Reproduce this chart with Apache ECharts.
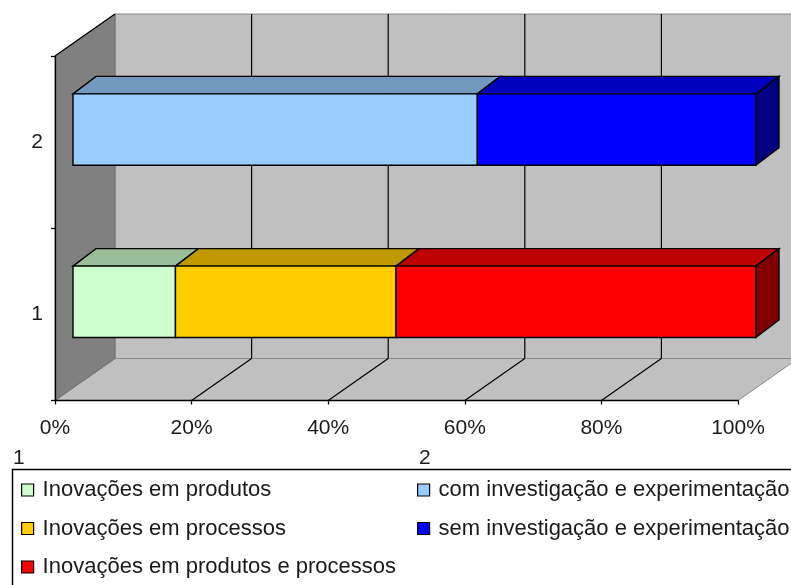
<!DOCTYPE html>
<html><head><meta charset="utf-8">
<script src="https://cdn.jsdelivr.net/npm/echarts@6/dist/echarts.min.js"></script>
<style>html,body{margin:0;padding:0;background:#fff}#c{width:791px;height:585px}</style>
</head><body><div id="c"></div>
<script>
// ---- data ----
const categories = ['1', '2'];
const xTicks = [0, 20, 40, 60, 80, 100];
const seriesNames = [
  'Inovações em produtos',
  'Inovações em processos',
  'Inovações em produtos e processos',
  'com investigação e experimentação',
  'sem investigação e experimentação'
];
const produtos = [15.0, 0];
const processos = [32.3, 0];
const produtosProcessos = [52.7, 0];
const comInvestigacao = [0, 59.2];
const semInvestigacao = [0, 40.8];
const legendHeaders = ['1', '2'];

// ---- styles ----
const palette = ['#CCFFCC', '#FFCC00', '#FF0000', '#99CCFF', '#0000FF'];
const FONT = "'Liberation Sans', Arial, sans-serif";
const WALL = [60, -42];       // full depth of the box
const FRONT = [18, -12.6];    // bar front plane offset
const TOP = [23, -17.5];      // bar depth

function shade(hex, f) {
  const n = parseInt(hex.slice(1), 16);
  const r = Math.round(((n >> 16) & 255) * f), g = Math.round(((n >> 8) & 255) * f), b = Math.round((n & 255) * f);
  return 'rgb(' + r + ',' + g + ',' + b + ')';
}

const valueSets = [produtos, processos, produtosProcessos, comInvestigacao, semInvestigacao];
const totals = categories.map((c, i) => valueSets.reduce((s, a) => s + a[i], 0));
const cum = categories.map(() => 0);

function renderBar(si) {
  return function (params, api) {
    const s = api.value(0), e = api.value(1), ci = api.value(2), last = api.value(3);
    const p0 = api.coord([s, ci]);
    const p1 = api.coord([e, ci]);
    const h = api.size([0, 1])[1] * 0.207;
    const x0 = p0[0] + FRONT[0], x1 = p1[0] + FRONT[0];
    const yc = p0[1] + FRONT[1];
    const yt = yc - h, yb = yc + h;
    const col = palette[si];
    const lw = 1.4;
    const children = [
      { type: 'polygon', shape: { points: [[x0, yt], [x1, yt], [x1 + TOP[0], yt + TOP[1]], [x0 + TOP[0], yt + TOP[1]]] },
        style: { fill: shade(col, 0.75), stroke: '#000', lineWidth: lw } },
      { type: 'rect', shape: { x: x0, y: yt, width: x1 - x0, height: yb - yt },
        style: { fill: col, stroke: '#000', lineWidth: lw } }
    ];
    if (last) {
      children.push({ type: 'polygon', shape: { points: [[x1, yt], [x1 + TOP[0], yt + TOP[1]], [x1 + TOP[0], yb + TOP[1]], [x1, yb]] },
        style: { fill: shade(col, 0.5), stroke: '#000', lineWidth: lw } });
    }
    return { type: 'group', children };
  };
}

function renderWalls(params, api) {
  const cs = params.coordSys;
  const L = cs.x, R = cs.x + cs.width, T = cs.y, B = cs.y + cs.height;
  const dx = WALL[0], dy = WALL[1];
  const children = [
    { type: 'rect', shape: { x: L + dx, y: T + dy, width: cs.width, height: cs.height },
      style: { fill: '#C0C0C0', stroke: '#8a8a8a', lineWidth: 1 } },
    { type: 'polygon', shape: { points: [[L, B], [R, B], [R + dx, B + dy], [L + dx, B + dy]] },
      style: { fill: '#C0C0C0', stroke: '#8a8a8a', lineWidth: 1 } },
    { type: 'polygon', shape: { points: [[L, T], [L + dx, T + dy], [L + dx, B + dy], [L, B]] },
      style: { fill: '#808080', stroke: '#707070', lineWidth: 1 } },
    { type: 'line', shape: { x1: L, y1: T, x2: L + dx, y2: T + dy }, style: { stroke: '#000', lineWidth: 1.2 } }
  ];
  xTicks.forEach(v => {
    if (v === xTicks[0] || v === xTicks[xTicks.length - 1]) return;
    const x = api.coord([v, 0])[0];
    children.push({ type: 'line', shape: { x1: x + dx, y1: T + dy, x2: x + dx, y2: B + dy }, style: { stroke: '#000', lineWidth: 1.2 } });
    children.push({ type: 'line', shape: { x1: x, y1: B, x2: x + dx, y2: B + dy }, style: { stroke: '#000', lineWidth: 1.2 } });
  });
  return { type: 'group', children };
}

const barSeries = valueSets.map((vals, si) => {
  const data = [];
  vals.forEach((v, ci) => {
    if (v > 0) {
      const s = cum[ci] / totals[ci] * 100;
      cum[ci] += v;
      const e = cum[ci] / totals[ci] * 100;
      data.push([s, e, ci, cum[ci] >= totals[ci] - 1e-9 ? 1 : 0]);
    }
  });
  return {
    type: 'custom', name: seriesNames[si], coordinateSystem: 'cartesian2d',
    renderItem: renderBar(si), data: data, encode: { x: [0, 1], y: 2 }, z: 3,
    itemStyle: { color: palette[si], borderColor: '#000', borderWidth: 1 }
  };
});

const legendBase = {
  orient: 'vertical', top: 478, padding: 0, itemWidth: 12, itemHeight: 12, itemGap: 14.5,
  icon: 'rect', selectedMode: false,
  itemStyle: { borderColor: '#000', borderWidth: 1.2 },
  textStyle: { fontSize: 22, fontFamily: FONT, color: '#1a1a1a', lineHeight: 24, padding: [0, 0, 0, 4] }
};

const chart = echarts.init(document.getElementById('c'), null, { renderer: 'canvas' });
chart.setOption({
  animation: false,
  backgroundColor: '#fff',
  grid: { left: 55, top: 56, width: 683, height: 344.5, containLabel: false },
  xAxis: {
    type: 'value', min: xTicks[0], max: xTicks[xTicks.length - 1], interval: xTicks[1] - xTicks[0], z: 5,
    axisLine: { show: true, lineStyle: { color: '#000', width: 1.3 } },
    axisTick: { show: true, length: 4, lineStyle: { color: '#000', width: 1.3 } },
    splitLine: { show: false },
    axisLabel: { formatter: '{value}%', fontSize: 21, fontFamily: FONT, color: '#1a1a1a', margin: 17 }
  },
  yAxis: {
    type: 'category', data: categories, z: 5,
    axisLine: { show: true, lineStyle: { color: '#000', width: 1.3 } },
    axisTick: { show: true, length: 4, lineStyle: { color: '#000', width: 1.3 } },
    axisLabel: { fontSize: 21, fontFamily: FONT, color: '#1a1a1a', margin: 12 }
  },
  legend: [
    Object.assign({}, legendBase, { left: 21, data: seriesNames.slice(0, 3) }),
    Object.assign({}, legendBase, { left: 417, data: seriesNames.slice(3) })
  ],
  graphic: [
    { type: 'rect', shape: { x: 12.5, y: 469.5, width: 820, height: 200 }, style: { fill: 'none', stroke: '#000', lineWidth: 1.5 }, z: 1 },
    { type: 'text', left: 13, top: 448, style: { text: legendHeaders[0], fontSize: 21, fontFamily: FONT, fill: '#1a1a1a' } },
    { type: 'text', left: 419, top: 448, style: { text: legendHeaders[1], fontSize: 21, fontFamily: FONT, fill: '#1a1a1a' } }
  ],
  series: [
    { type: 'custom', name: '_walls', coordinateSystem: 'cartesian2d', renderItem: renderWalls,
      data: [[0, 0]], z: 1, silent: true }
  ].concat(barSeries)
});
</script>
</body></html>
